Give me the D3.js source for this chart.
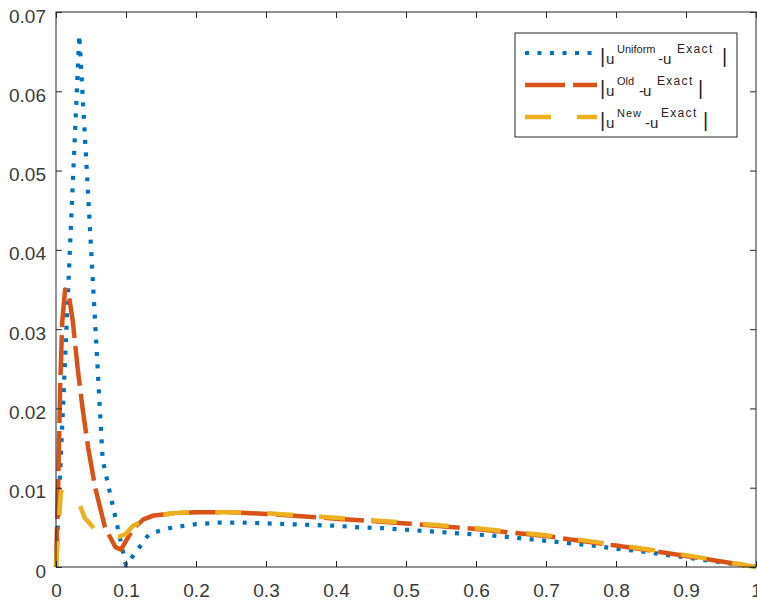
<!DOCTYPE html>
<html>
<head>
<meta charset="utf-8">
<script src="https://cdn.jsdelivr.net/npm/d3@7/dist/d3.min.js"></script>
<style>
html,body{margin:0;padding:0;background:#fff;}
svg{display:block;}
text{font-family:"Liberation Sans",Arial,sans-serif;}
</style>
</head>
<body>
<svg id="chart" width="757" height="603"></svg>
<script>
// ---- data ----
const xTicks = [0,0.1,0.2,0.3,0.4,0.5,0.6,0.7,0.8,0.9,1];
const xTickLabels = ["0","0.1","0.2","0.3","0.4","0.5","0.6","0.7","0.8","0.9","1"];
const yTicks = [0,0.01,0.02,0.03,0.04,0.05,0.06,0.07];
const yTickLabels = ["0","0.01","0.02","0.03","0.04","0.05","0.06","0.07"];

const uniformX = [0,0.0333,0.0667,0.1,0.1333,0.1667,0.2,0.2333,0.2667,0.3,0.3333,0.3667,0.4,0.4333,0.4667,0.5,0.5333,0.5667,0.6,0.6333,0.6667,0.7,0.7333,0.7667,0.8,0.8333,0.8667,0.9,0.9333,0.9667,1];
const uniformY = [0,0.0671,0.0135,0.0002,0.0042,0.0050,0.0054,0.0056,0.0056,0.0055,0.0054,0.0053,0.0052,0.0050,0.0049,0.0047,0.0045,0.0043,0.0041,0.0039,0.0036,0.0033,0.0030,0.0027,0.0023,0.0020,0.0016,0.0012,0.0008,0.0004,0];

const oldX = [0,0.003,0.006,0.009,0.013,0.018,0.024,0.031,0.038,0.046,0.056,0.07,0.085,0.093,0.1,0.11,0.125,0.14,0.17,0.2,0.25,0.3,0.35,0.4,0.5,0.6,0.7,0.8,0.9,1];
const oldY = [0,0.010,0.023,0.031,0.035,0.0345,0.031,0.025,0.020,0.015,0.010,0.005,0.0025,0.0022,0.0033,0.0048,0.0060,0.0065,0.0068,0.0069,0.0069,0.0067,0.0064,0.0061,0.0055,0.0048,0.0039,0.0027,0.0014,0];

const newX = [0,0.003,0.007,0.012,0.02,0.03,0.041,0.055,0.077,0.09,0.1,0.11,0.125,0.14,0.17,0.2,0.25,0.3,0.35,0.4,0.5,0.6,0.7,0.8,0.9,1];
const newY = [0,0.004,0.0095,0.0098,0.0095,0.0087,0.0062,0.0048,0.0040,0.0038,0.0042,0.0052,0.0058,0.0064,0.0068,0.0069,0.0069,0.0068,0.0065,0.0062,0.0056,0.0049,0.0040,0.0028,0.0015,0];

const seriesNames = ["Uniform","Old","New"];
const seriesColors = ["#0072BD","#D95319","#EDB120"];

// ---- layout ----
const svg = d3.select("#chart");
const L = 56, R = 756, T = 12, B = 567;
const x = d3.scaleLinear().domain([0,1]).range([L,R]);
const y = d3.scaleLinear().domain([0,0.07]).range([B,T]);
const axisColor = "#262626";
const labelColor = "#3a3a3a";

const styles = [
  {w:4.2, dash:"4,8.5"},
  {w:4.5, dash:"40,8"},
  {w:4.5, dash:"26,26"}
];

const series = [
  d3.zip(uniformX, uniformY),
  d3.zip(oldX, oldY),
  d3.zip(newX, newY)
];

const line = d3.line().x(d=>x(d[0])).y(d=>y(d[1]));

const gLines = svg.append("g");
series.forEach((s,i)=>{
  gLines.append("path")
    .attr("d", line(s))
    .attr("fill","none")
    .attr("stroke", seriesColors[i])
    .attr("stroke-width", styles[i].w)
    .attr("stroke-dasharray", styles[i].dash)
    .attr("stroke-linejoin","round")
    .attr("stroke-linecap","butt");
});

// axes box
svg.append("rect").attr("x",L).attr("y",T).attr("width",R-L).attr("height",B-T)
  .attr("fill","none").attr("stroke",axisColor).attr("stroke-width",1);

const tickLen = 6;
const xAxisB = d3.axisBottom(x).tickValues(xTicks).tickSizeInner(-tickLen).tickSizeOuter(0)
  .tickFormat((d,i)=>xTickLabels[i]).tickPadding(17);
const gxb = svg.append("g").attr("transform",`translate(0,${B})`).call(xAxisB);
const xAxisT = d3.axisTop(x).tickValues(xTicks).tickSizeInner(-tickLen).tickSizeOuter(0).tickFormat("");
const gxt = svg.append("g").attr("transform",`translate(0,${T})`).call(xAxisT);
const yAxisL = d3.axisLeft(y).tickValues(yTicks).tickSizeInner(-tickLen).tickSizeOuter(0)
  .tickFormat((d,i)=>yTickLabels[i]).tickPadding(16);
const gyl = svg.append("g").attr("transform",`translate(${L},0)`).call(yAxisL);
const yAxisR = d3.axisRight(y).tickValues(yTicks).tickSizeInner(-tickLen).tickSizeOuter(0).tickFormat("");
const gyr = svg.append("g").attr("transform",`translate(${R},0)`).call(yAxisR);

[gxb,gxt,gyl,gyr].forEach(g=>{
  g.select(".domain").remove();
  g.selectAll(".tick line").attr("stroke",axisColor).attr("stroke-width",1);
  g.selectAll(".tick text").attr("fill",labelColor).attr("font-size",19)
   .attr("font-family",'"Liberation Sans",Arial,sans-serif');
});
gxb.selectAll(".tick text").attr("dy",null).attr("y",30);
gyl.selectAll(".tick text").attr("dy",null).attr("y",10).attr("x",-10);

// legend
const lg = svg.append("g");
lg.append("rect").attr("x",515).attr("y",33).attr("width",222).attr("height",104)
  .attr("fill","#fff").attr("stroke",axisColor).attr("stroke-width",1);
const rowY = [53,85,117];
// x positions of legend text pieces: [bar, u, sup, dash, u, sup2, bar]
const pieceX = [
  [600,606,617,658,663,677,722],
  [600,606,617,639,643,657,698],
  [600,606,617,645,650,661,703]
];
const supSpacing = [0,0,1];
seriesNames.forEach((name,i)=>{
  const yy = rowY[i];
  lg.append("line").attr("x1",525).attr("x2",597).attr("y1",yy).attr("y2",yy)
    .attr("stroke",seriesColors[i]).attr("stroke-width",styles[i].w)
    .attr("stroke-dasharray",styles[i].dash);
  const px = pieceX[i];
  const base = yy+11, supBase = yy;
  const t = (txt,xx,yb,fs,ls)=>{
    lg.append("text").attr("x",xx).attr("y",yb).attr("font-size",fs)
      .attr("letter-spacing",ls||0).attr("fill",axisColor).text(txt);
  };
  t("|",px[0],yy+10,20);
  t("u",px[1],base,15);
  t(name,px[2],supBase,11,supSpacing[i]);
  t("-",px[3],base,15);
  t("u",px[4],base,15);
  t("Exact",px[5],supBase,12,1.3);
  t("|",px[6],yy+10,20);
});
</script>
</body>
</html>
